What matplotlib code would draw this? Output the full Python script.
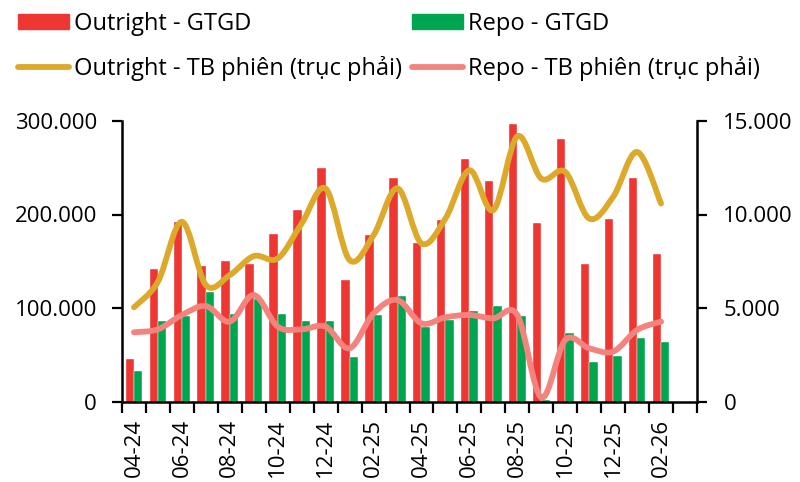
import matplotlib
matplotlib.use("Agg")
import matplotlib.pyplot as plt
from matplotlib.path import Path
from matplotlib.patches import PathPatch, Patch
from matplotlib.lines import Line2D
from matplotlib.ticker import FuncFormatter, FixedLocator
import numpy as np

plt.rcParams['font.family'] = ['Open Sans', 'DejaVu Sans']

months = ["04-24", "05-24", "06-24", "07-24", "08-24", "09-24", "10-24", "11-24",
          "12-24", "01-25", "02-25", "03-25", "04-25", "05-25", "06-25", "07-25",
          "08-25", "09-25", "10-25", "11-25", "12-25", "01-26", "02-26"]

outright_gtgd = [45200, 142000, 191800, 145200, 149800, 147300, 179400, 205000,
                 249500, 129500, 178300, 238800, 169400, 193600, 259800, 235600,
                 296800, 191100, 280400, 147000, 195400, 239100, 158000]

repo_gtgd = [33100, 86100, 91500, 117400, 93200, 109300, 93200, 86000,
             86500, 47700, 92500, 112800, 80000, 87200, 96800, 102500,
             91800, 1200, 73000, 42300, 48400, 67600, 63300]

outright_tb = [5036, 6406, 9609, 6228, 6762, 7776, 7651, 9520,
               11388, 7562, 8897, 11400, 8452, 9786, 12367, 10231,
               14181, 11922, 12278, 9786, 10943, 13345, 10587]

repo_tb = [3701, 3861, 4626, 5107, 4270, 5694, 4004, 3861,
           4004, 2847, 4715, 5427, 4181, 4502, 4626, 4448,
           4626, 214, 3292, 2847, 2669, 3826, 4270]

legend_labels = ["Outright - GTGD", "Repo - GTGD",
                 "Outright - TB phiên (trục phải)", "Repo - TB phiên (trục phải)"]

RED = "#EE3632"
GREEN = "#00A550"
GOLD = "#DCA92A"
PINK = "#F4837E"


def smooth_path(xs, ys):
    xs = np.asarray(xs, float)
    ys = np.asarray(ys, float)
    n = len(xs)
    verts = [(xs[0], ys[0])]
    codes = [Path.MOVETO]
    for i in range(n - 1):
        i0 = max(i - 1, 0)
        i3 = min(i + 2, n - 1)
        c1 = (xs[i] + (xs[i + 1] - xs[i0]) / 6.0, ys[i] + (ys[i + 1] - ys[i0]) / 6.0)
        c2 = (xs[i + 1] - (xs[i3] - xs[i]) / 6.0, ys[i + 1] - (ys[i3] - ys[i]) / 6.0)
        verts += [c1, c2, (xs[i + 1], ys[i + 1])]
        codes += [Path.CURVE4, Path.CURVE4, Path.CURVE4]
    return Path(verts, codes)


fig = plt.figure(figsize=(8.0, 4.82), dpi=100)
ax = fig.add_axes([122 / 800, 1 - 401.5 / 482, (697 - 122) / 800, (401.5 - 121) / 482])
ax2 = ax.twinx()

x = np.arange(len(months))
w = 0.35
ax.bar(x - w / 2, outright_gtgd, width=w, color=RED, edgecolor="white", linewidth=0.3, zorder=2)
ax.bar(x + w / 2, repo_gtgd, width=w, color=GREEN, edgecolor="white", linewidth=0.3, zorder=2)

lw = 4.2
ax2.add_patch(PathPatch(smooth_path(x, outright_tb), facecolor="none", edgecolor=GOLD,
                        linewidth=lw, capstyle="round", joinstyle="round"))
ax2.add_patch(PathPatch(smooth_path(x, repo_tb), facecolor="none", edgecolor=PINK,
                        linewidth=lw, capstyle="round", joinstyle="round"))

ax.set_xlim(-0.5, len(months) + 0.5)
ax.set_ylim(0, 300000)
ax2.set_ylim(0, 15000)

fmt = FuncFormatter(lambda v, p: f"{int(v):,}".replace(",", "."))
ax.set_yticks([0, 100000, 200000, 300000])
ax.yaxis.set_major_formatter(fmt)
ax2.set_yticks([0, 5000, 10000, 15000])
ax2.yaxis.set_major_formatter(fmt)

ax.set_xticks(x[::2])
ax.set_xticklabels(months[::2], rotation=90)
ax.xaxis.set_minor_locator(FixedLocator(np.arange(-0.5, len(months) + 1, 1.0)))
ax.tick_params(axis="x", which="major", length=0, pad=12.5, labelsize=16)
ax.tick_params(axis="x", which="minor", length=8, width=1.6, direction="out")
ax.tick_params(axis="y", length=7, width=1.6, pad=11, labelsize=16)
ax2.tick_params(axis="y", length=7, width=1.6, pad=12, labelsize=16)

for a in (ax, ax2):
    a.spines["top"].set_visible(False)
    for s in ("left", "right", "bottom"):
        a.spines[s].set_linewidth(1.8)
ax.spines["right"].set_visible(False)
ax2.spines["left"].set_visible(False)
ax2.spines["bottom"].set_visible(False)

handles = [Patch(color=RED), Line2D([], [], color=GOLD, lw=lw, solid_capstyle="round"),
           Patch(color=GREEN), Line2D([], [], color=PINK, lw=lw, solid_capstyle="round")]
labels = [legend_labels[0], legend_labels[2], legend_labels[1], legend_labels[3]]
fig.legend(handles, labels, loc="upper left", bbox_to_anchor=(0.005, 1.005), ncol=2,
           frameon=False, fontsize=17, handlelength=2.15, handleheight=0.65,
           handletextpad=0.2, columnspacing=0.45, labelspacing=0.85, borderaxespad=0.2)

fig.savefig("out.png", dpi=100)
